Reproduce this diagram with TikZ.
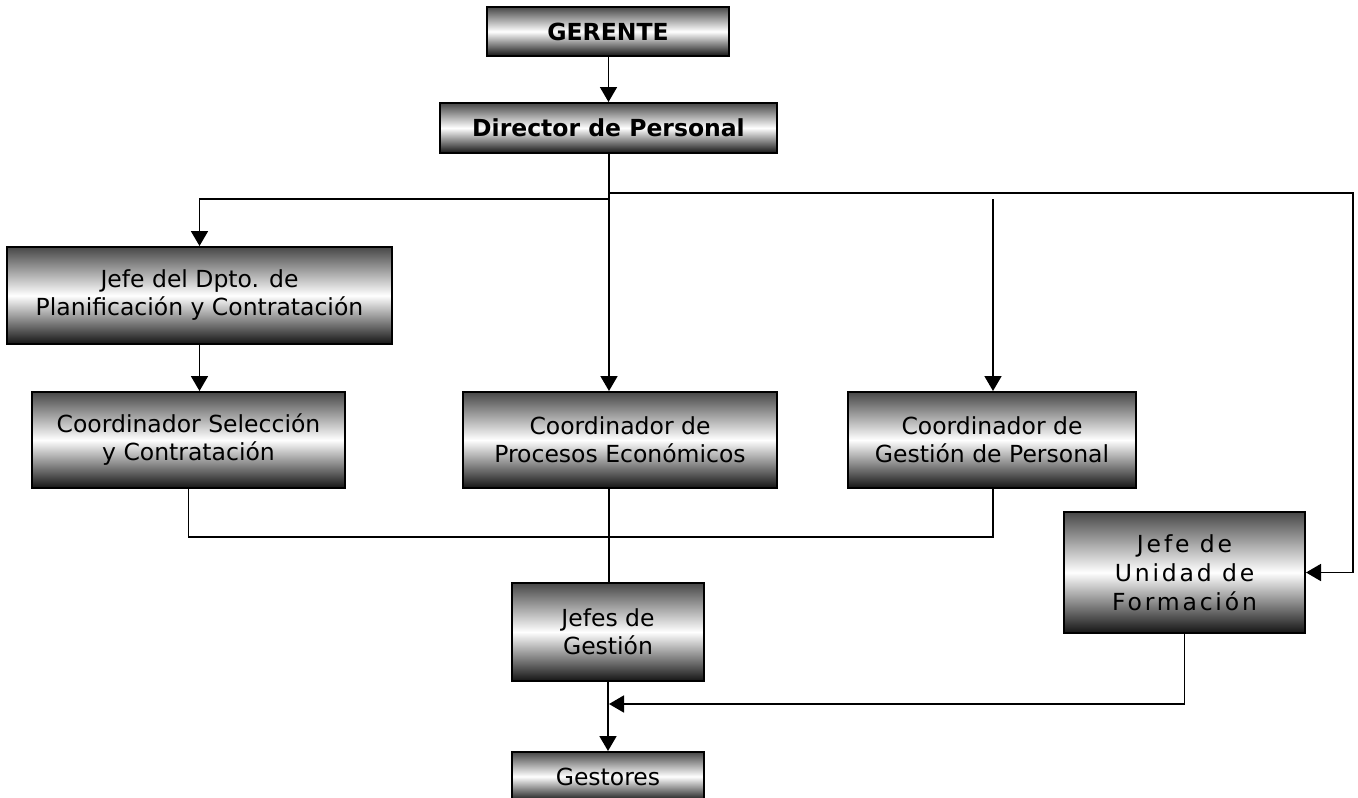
\documentclass[tikz,border=0pt]{standalone}
\usepackage{fontspec}
\setmainfont{DejaVu Sans}
\usetikzlibrary{arrows.meta,calc}
\tikzset{
  box/.style={draw=black, line width=2pt, top color=black!72, bottom color=black!92, middle color=white,
    inner sep=0pt, align=center, font=\fontsize{23.5}{28}\selectfont, anchor=center},
  conn/.style={line width=1.8pt, draw=black},
  arr/.style={conn, -{Triangle[length=15pt,width=17pt]}},
}
\begin{document}
\begin{tikzpicture}[x=1pt,y=-1pt]
\useasboundingbox (0,0) rectangle (1358,798);
\node[box, minimum width=242pt, minimum height=49pt, font=\fontsize{23.5}{28}\selectfont\bfseries] (ger) at (608,31.5) {GERENTE};
\node[box, minimum width=337pt, minimum height=50pt, font=\fontsize{23.5}{28}\selectfont\bfseries] (dir) at (608.5,128) {Director de Personal};
\node[box, minimum width=385pt, minimum height=97pt] (jdp) at (199.5,295.5) {Jefe del Dpto. de\\Planificación y Contratación};
\node[box, minimum width=313pt, minimum height=96pt] (csel) at (188.5,440) {Coordinador Selección\\y Contratación};
\node[box, minimum width=314pt, minimum height=96pt] (cpro) at (620,440) {Coordinador de\\Procesos Económicos};
\node[box, minimum width=288pt, minimum height=96pt] (cges) at (992,440) {Coordinador de\\Gestión de Personal};
\node[box, minimum width=241pt, minimum height=121pt, font=\fontsize{23.5}{29}\selectfont\addfontfeatures{LetterSpace=12}] (jun) at (1184.5,572.5) {Jefe de\\Unidad de\\Formación};
\node[box, minimum width=192pt, minimum height=98pt] (jg) at (608,632) {Jefes de\\Gestión};
\node[box, minimum width=192pt, minimum height=49pt] (gst) at (608,776.5) {Gestores};

\coordinate (t1) at (609,193);
\coordinate (t2) at (609,199);
\coordinate (r1) at (1353,193);
\coordinate (rg) at (993,199);
\coordinate (m) at (609,704);

\draw[arr] (ger.south) -- (dir.south |- ger.south) -- (dir.north);
\draw[arr] (t1 |- dir.south) -- (t1 |- cpro.north);
\draw[arr] (t2) -| (jdp.north);
\draw[arr] (t1) -- (r1) |- (jun.east);
\draw[arr] (rg) -- (rg |- cges.north);
\draw[arr] (jdp.south) -- (jdp.south |- csel.north);
\draw[conn] (csel.south) -- ++(0,48) -| (rg |- cges.south);
\draw[conn] (t1 |- cpro.south) -- (t1 |- jg.north);
\draw[arr] (jg.south) -- (gst.north);
\draw[arr] (jun.south) |- (m);
\end{tikzpicture}
\end{document}
